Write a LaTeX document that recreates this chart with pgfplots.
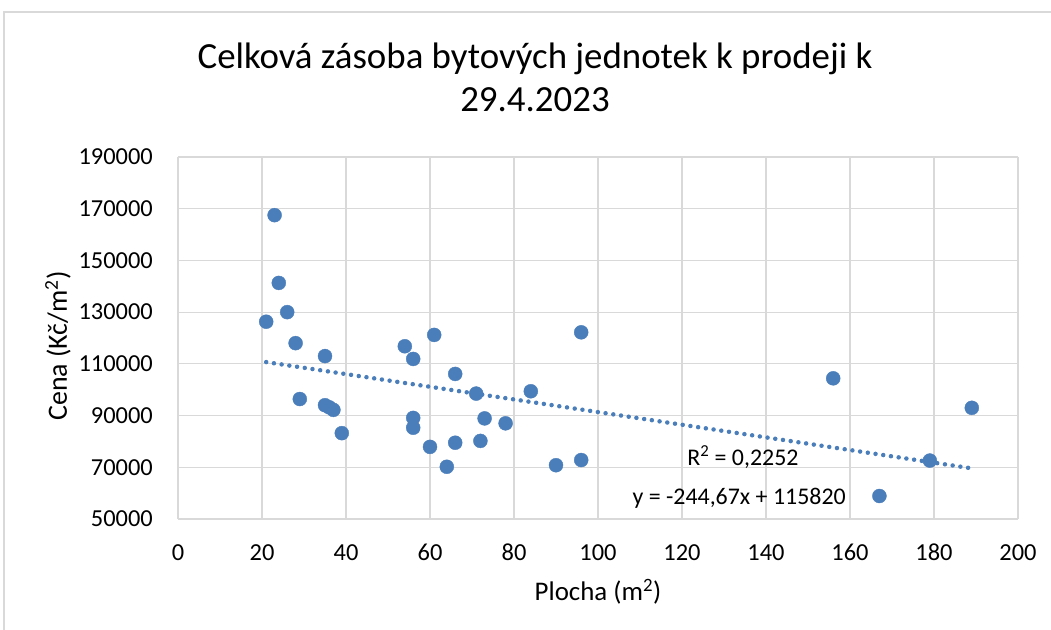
\documentclass[border=0pt]{standalone}
\usepackage{pgfplots}
\pgfplotsset{compat=1.18}
\usepackage{fontspec}
\setmainfont{Carlito}
\definecolor{markblue}{RGB}{74,126,187}
\definecolor{gridgray}{RGB}{217,217,217}
\begin{document}
\begin{tikzpicture}
\useasboundingbox (0,0) rectangle (1051bp,630bp);
\draw[gridgray, line width=1.2bp] (4bp,0) -- (4bp,618bp) -- (1051bp,618bp);
\begin{axis}[
  at={(178bp,111bp)}, anchor=south west,
  width=840bp, height=362bp, scale only axis,
  xmin=0, xmax=200, ymin=50000, ymax=190000,
  xtick={0,20,...,200}, ytick={50000,70000,...,190000},
  scaled y ticks=false, scaled x ticks=false,
  grid=major,
  major grid style={gridgray, line width=1.2bp},
  axis line style={gridgray, line width=1.2bp},
  axis x line*=bottom, axis y line*=left,
  x axis line style={-}, y axis line style={-},
  tick style={draw=none},
  /pgf/number format/fixed,
  /pgf/number format/1000 sep={},
  /pgf/number format/assume math mode=true,
  xticklabel style={font=\fontsize{24.5}{28}\selectfont, inner sep=0pt, anchor=north, yshift=-25bp},
  yticklabel style={font=\fontsize{24.5}{28}\selectfont, inner sep=0pt, anchor=east, xshift=-25bp},
  xlabel={Plocha (m\textsuperscript{2})},
  ylabel={Cena (Kč/m\textsuperscript{2})},
  xlabel style={font=\fontsize{27}{31}\selectfont, at={(axis description cs:0.5,-0.2017)}, anchor=center},
  ylabel style={font=\fontsize{28}{32}\selectfont, at={(axis description cs:-0.1429,0.478)}, anchor=center, rotate=0},
  clip=false,
]
\addplot[only marks, mark=*, mark size=7bp, mark options={fill=markblue, draw=markblue}] coordinates {
(21,126300) (23,167500) (24,141300) (26,130000) (28,118000) (29,96400)
(35,113000) (35,94000) (36,93200) (37,92200) (39,83200)
(54,116800) (56,111900) (56,89100) (56,85300) (61,121200) (60,77900)
(64,70200) (66,106100) (66,79500) (71,98500) (72,80200) (73,88900)
(78,87000) (84,99400) (90,70800) (96,72800) (96,122200)
(156,104400) (167,58900) (179,72600) (189,93000)
};
\addplot[markblue, line width=4.5bp, line cap=round, dash pattern=on 0bp off 7.8bp] coordinates {(21,110682) (189,69578)};
\node[font=\fontsize{24}{28}\selectfont] at (axis cs:134.5,73800) {R\textsuperscript{2} = 0,2252};
\node[font=\fontsize{24}{28}\selectfont] at (axis cs:133.6,57900) {y = -244,67x + 115820};
\node[font=\fontsize{37}{44}\selectfont, align=center] at (axis description cs:0.425,1.22) {Celková zásoba bytových jednotek k prodeji k\\29.4.2023};
\end{axis}
\end{tikzpicture}
\end{document}
